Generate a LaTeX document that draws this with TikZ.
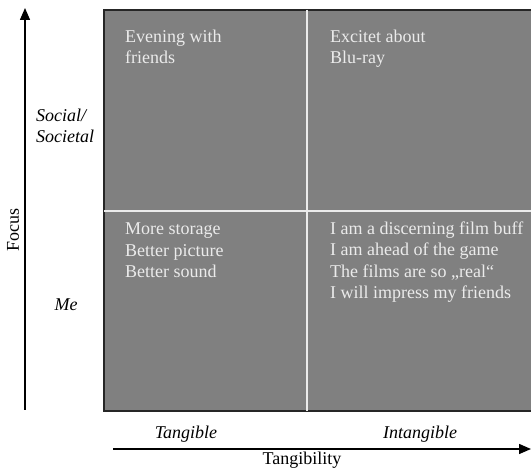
\documentclass[tikz,border=0pt]{standalone}
\usepackage{fontspec}
\setmainfont{Liberation Serif}
\usetikzlibrary{arrows.meta}
\definecolor{boxgrey}{HTML}{808080}
\definecolor{txtlight}{HTML}{EBEBEB}
\tikzset{
  quadtext/.style={anchor=base west, align=left, text=txtlight, inner sep=0pt,
    font=\fontsize{18}{21.5}\selectfont},
  axislabel/.style={inner sep=0pt, font=\fontsize{18}{21.5}\selectfont\itshape},
  axistitle/.style={inner sep=0pt, font=\fontsize{18}{21.5}\selectfont},
  axisarrow/.style={line width=1.4pt, -{Triangle[width=10pt,length=12pt]}},
  divider/.style={draw=txtlight, line width=1.3pt}
}
\begin{document}
\begin{tikzpicture}[x=1pt,y=-1pt]
\useasboundingbox (0,0) rectangle (531,470);
\begin{scope}
\clip (0,0) rectangle (531,470);
\path[fill=boxgrey, draw=black!85, line width=1.5pt] (104,10) rectangle (540,411);
\coordinate (vt) at (307,10);
\coordinate (vb) at (307,411);
\coordinate (hl) at (104,211);
\coordinate (hr) at (540,211);
\draw[divider] (vt) -- (vb);
\draw[divider] (hl) -- (hr);
\end{scope}
% quadrant texts (anchored at the baseline of the last line)
\node[quadtext] (q1) at (125,64) {Evening with\\friends};
\node[quadtext] (q2) at (330,64) {Excitet about\\Blu-ray};
\node[quadtext] (q3) at (125,278) {More storage\\Better picture\\Better sound};
\node[quadtext] (q4) at (330,299) {I am a discerning film buff\\I am ahead of the game\\The films are so „real“\\I will impress my friends};
% axes
\coordinate (ybot) at (25,410);
\coordinate (ytop) at (25,8);
\draw[axisarrow] (ybot) -- (ytop);
\coordinate (xleft) at (113,449);
\coordinate (xright) at (531,449);
\draw[axisarrow] (xleft) -- (xright);
% axis labels
\node[axislabel, anchor=base west, align=left] (soc) at (36,143) {Social/\\Societal};
\node[axislabel, anchor=base] (me) at (66,311) {Me};
\node[axistitle, rotate=90] (focus) at (13,230) {Focus};
\node[axislabel, anchor=base] (tang) at (186,439) {Tangible};
\node[axislabel, anchor=base] (intang) at (420,439) {Intangible};
\node[axistitle, anchor=base] (tangt) at (302,465) {Tangibility};
\end{tikzpicture}
\end{document}
